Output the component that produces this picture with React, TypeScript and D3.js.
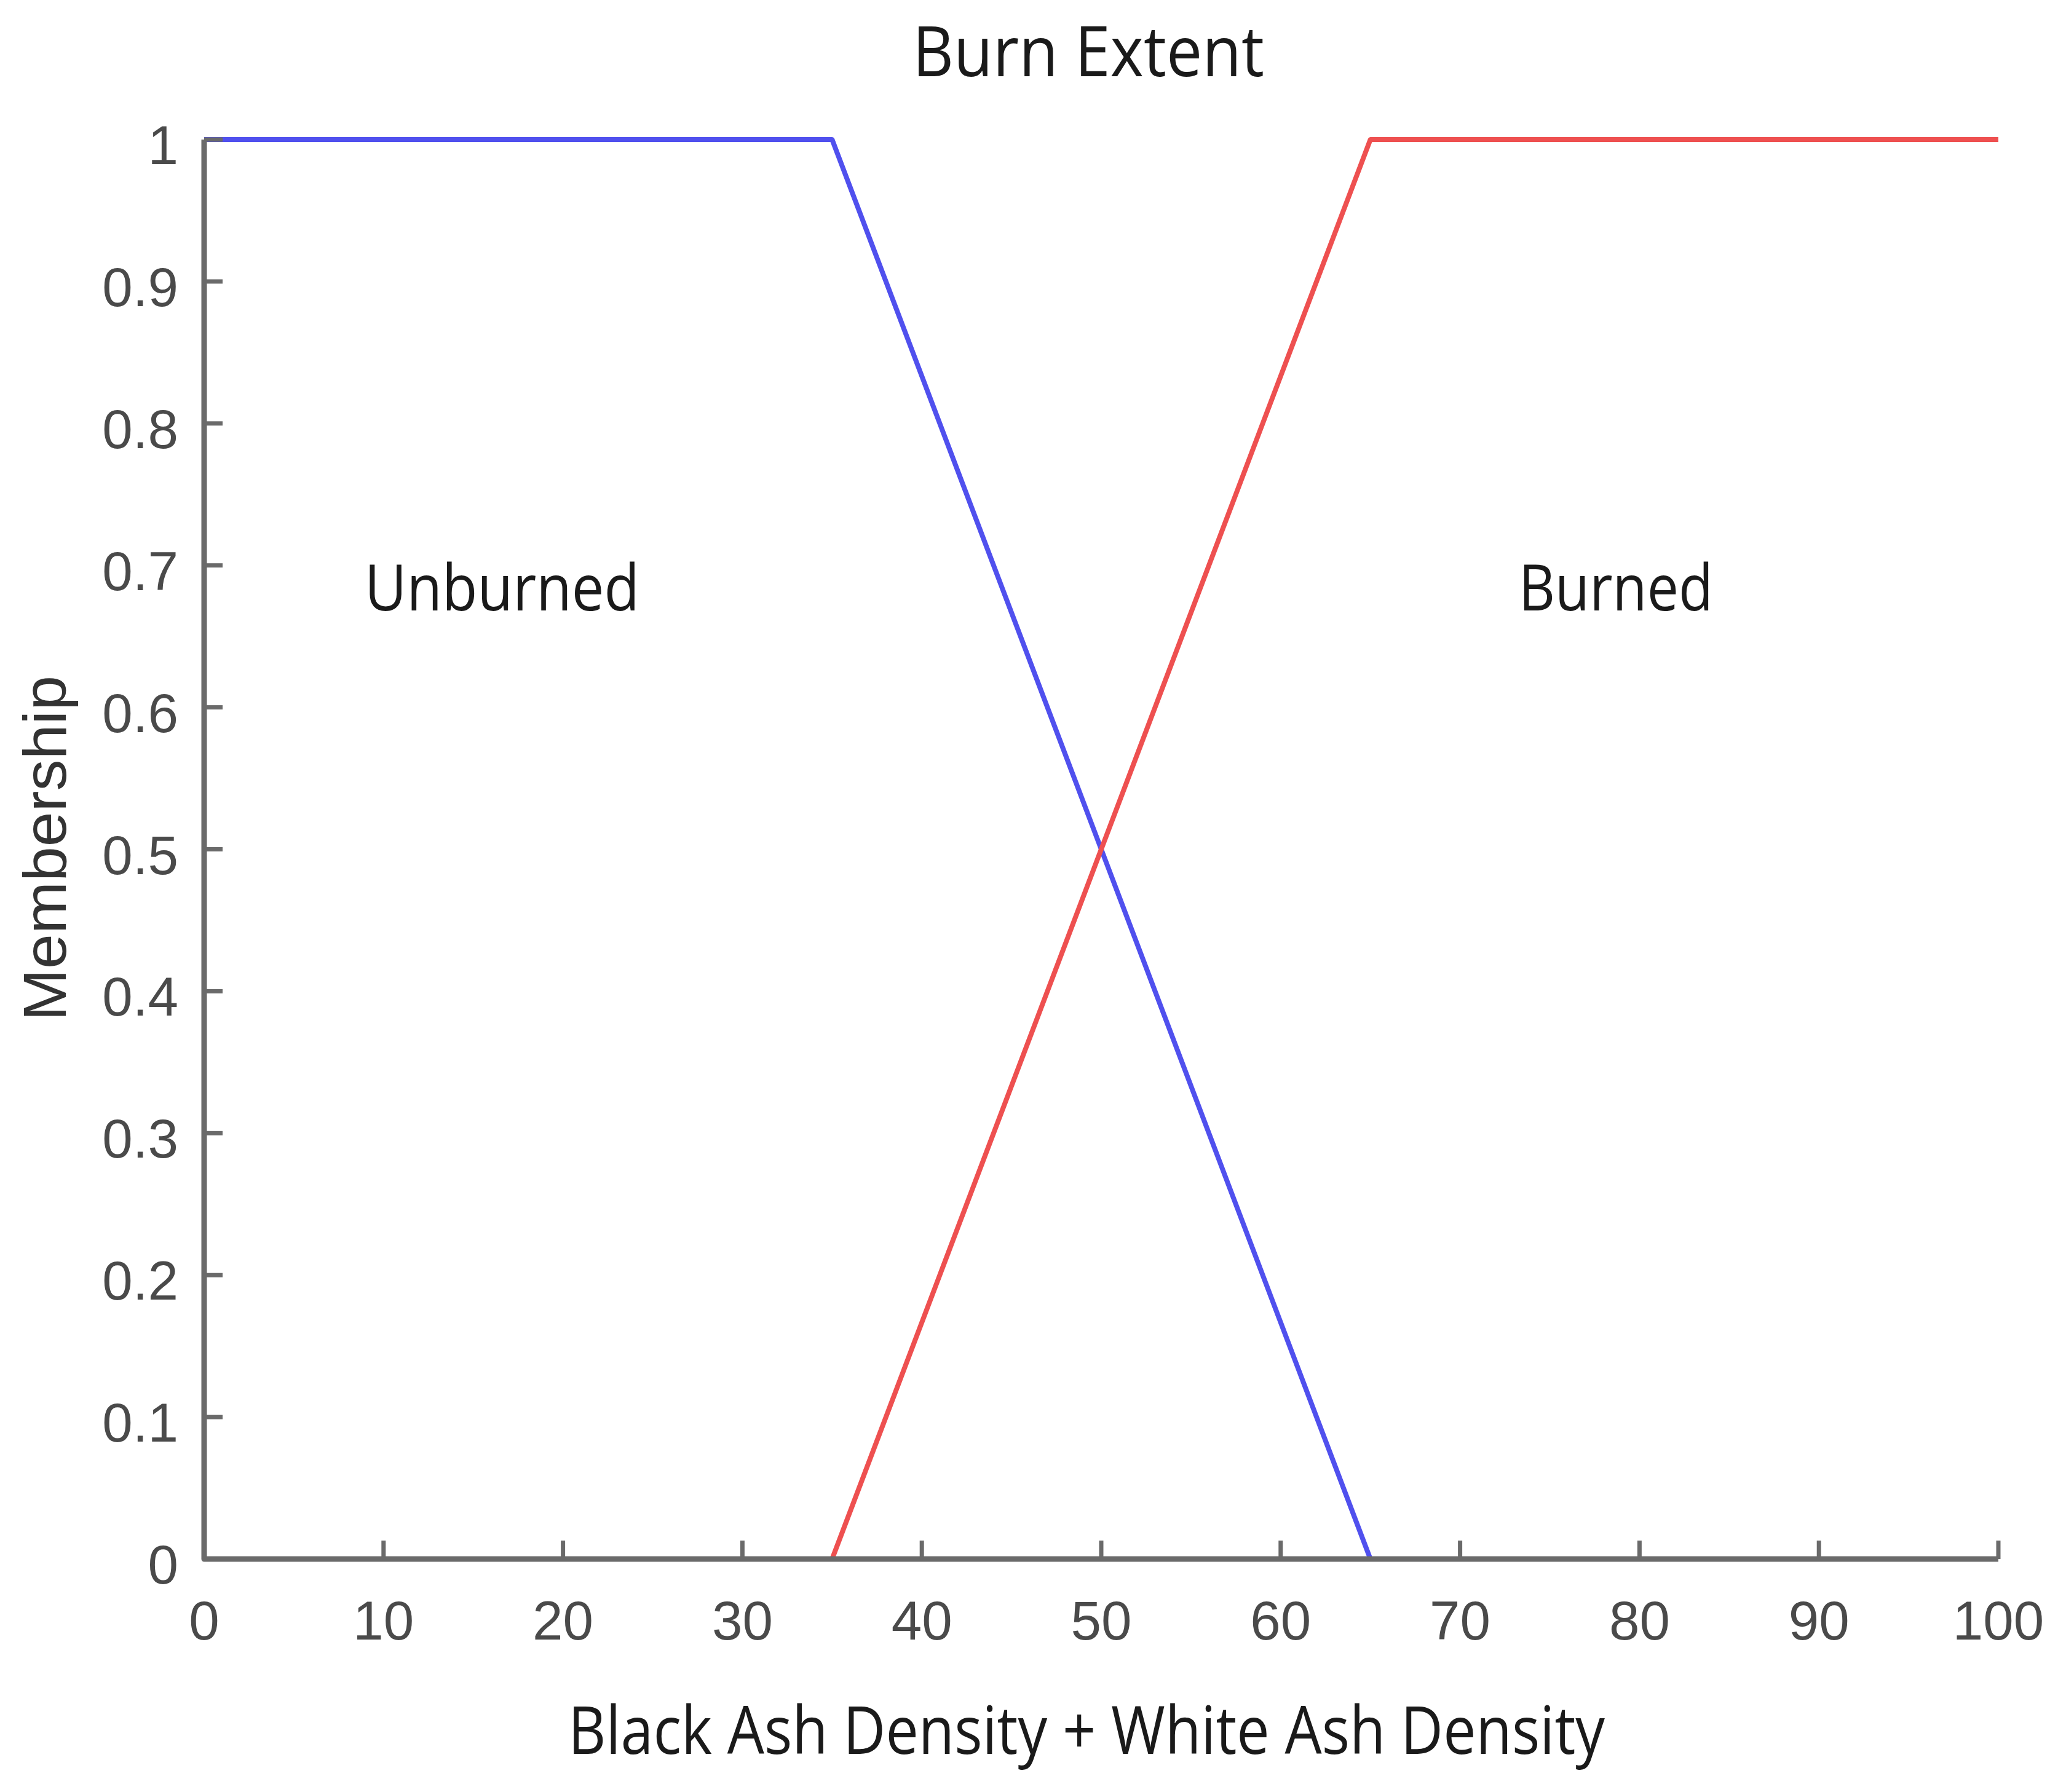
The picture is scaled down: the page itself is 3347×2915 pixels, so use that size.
import React from "react";
import * as d3 from "d3";

const W = 3347;
const H = 2915;

const xTicks = [0, 10, 20, 30, 40, 50, 60, 70, 80, 90, 100];
const yTicks = [0, 0.1, 0.2, 0.3, 0.4, 0.5, 0.6, 0.7, 0.8, 0.9, 1];

const unburnedX = [0, 35, 65];
const unburnedY = [1, 1, 0];
const burnedX = [35, 65, 100];
const burnedY = [0, 1, 1];

const titleText = "Burn Extent";
const xLabelText = "Black Ash Density + White Ash Density";
const yLabelText = "Membership";
const labelUnburned = "Unburned";
const labelBurned = "Burned";

const margin = { left: 332, right: W - 3250, top: 227, bottom: H - 2536 };

export default function App() {
  const x = d3.scaleLinear().domain([0, 100]).range([margin.left, W - margin.right]);
  const y = d3.scaleLinear().domain([0, 1]).range([H - margin.bottom, margin.top]);

  const line = d3
    .line<[number, number]>()
    .x((d) => x(d[0]))
    .y((d) => y(d[1]));

  const blue = line(unburnedX.map((v, i) => [v, unburnedY[i]] as [number, number])) || "";
  const red = line(burnedX.map((v, i) => [v, burnedY[i]] as [number, number])) || "";

  const axisColor = "#6a6a6a";
  const textColor = "#4a4a4a";
  const tickLen = 30;
  const humanist = "'Open Sans', 'Noto Sans', sans-serif";
  const arial = "'Liberation Sans', Arial, sans-serif";

  const x0 = x(0);
  const x1 = x(100);
  const yb = y(0);
  const yt = y(1);

  return (
    <svg
      width={W}
      height={H}
      style={{ position: "absolute", left: 0, top: 0, background: "#ffffff" }}
    >
      <rect x={0} y={0} width={W} height={H} fill="#ffffff" />
      {/* curves */}
      <path d={blue} fill="none" stroke="#5050ee" strokeWidth={8} strokeLinejoin="round" />
      <path d={red} fill="none" stroke="#ee5050" strokeWidth={8} strokeLinejoin="round" />

      {/* axes */}
      <path
        d={`M${x0},${yt}V${yb}H${x1}`}
        fill="none"
        stroke={axisColor}
        strokeWidth={9}
        strokeLinejoin="round"
      />
      {xTicks.map((t) => (
        <g key={"xt" + t}>
          <line x1={x(t)} x2={x(t)} y1={yb} y2={yb - tickLen} stroke={axisColor} strokeWidth={7} />
          <text
            x={x(t)}
            y={yb + 131}
            textAnchor="middle"
            fontFamily={arial}
            fontSize={89}
            fill={textColor}
          >
            {d3.format("~g")(t)}
          </text>
        </g>
      ))}
      {yTicks.map((t) => (
        <g key={"yt" + t}>
          <line x1={x0} x2={x0 + tickLen} y1={y(t)} y2={y(t)} stroke={axisColor} strokeWidth={7} />
          <text
            x={290}
            y={y(t) + 40}
            textAnchor="end"
            fontFamily={arial}
            fontSize={89}
            fill={textColor}
          >
            {d3.format("~g")(t)}
          </text>
        </g>
      ))}

      {/* title */}
      <text
        x={1770}
        y={124}
        textAnchor="middle"
        fontFamily={humanist}
        fontSize={113}
        fill="#1a1a1a"
        textLength={572}
        lengthAdjust="spacingAndGlyphs"
      >
        {titleText}
      </text>

      {/* x label */}
      <text
        x={1767}
        y={2853}
        textAnchor="middle"
        fontFamily={humanist}
        fontSize={108}
        fill="#1a1a1a"
        textLength={1686}
        lengthAdjust="spacingAndGlyphs"
      >
        {xLabelText}
      </text>

      {/* y label */}
      <text
        transform={`translate(107,1380) rotate(-90)`}
        textAnchor="middle"
        fontFamily={arial}
        fontSize={98}
        fill="#333333"
        textLength={562}
        lengthAdjust="spacingAndGlyphs"
      >
        {yLabelText}
      </text>

      {/* region labels */}
      <text
        x={593}
        y={993}
        fontFamily={humanist}
        fontSize={105}
        fill="#1a1a1a"
        textLength={447}
        lengthAdjust="spacingAndGlyphs"
      >
        {labelUnburned}
      </text>
      <text
        x={2470}
        y={993}
        fontFamily={humanist}
        fontSize={105}
        fill="#1a1a1a"
        textLength={316}
        lengthAdjust="spacingAndGlyphs"
      >
        {labelBurned}
      </text>
    </svg>
  );
}
